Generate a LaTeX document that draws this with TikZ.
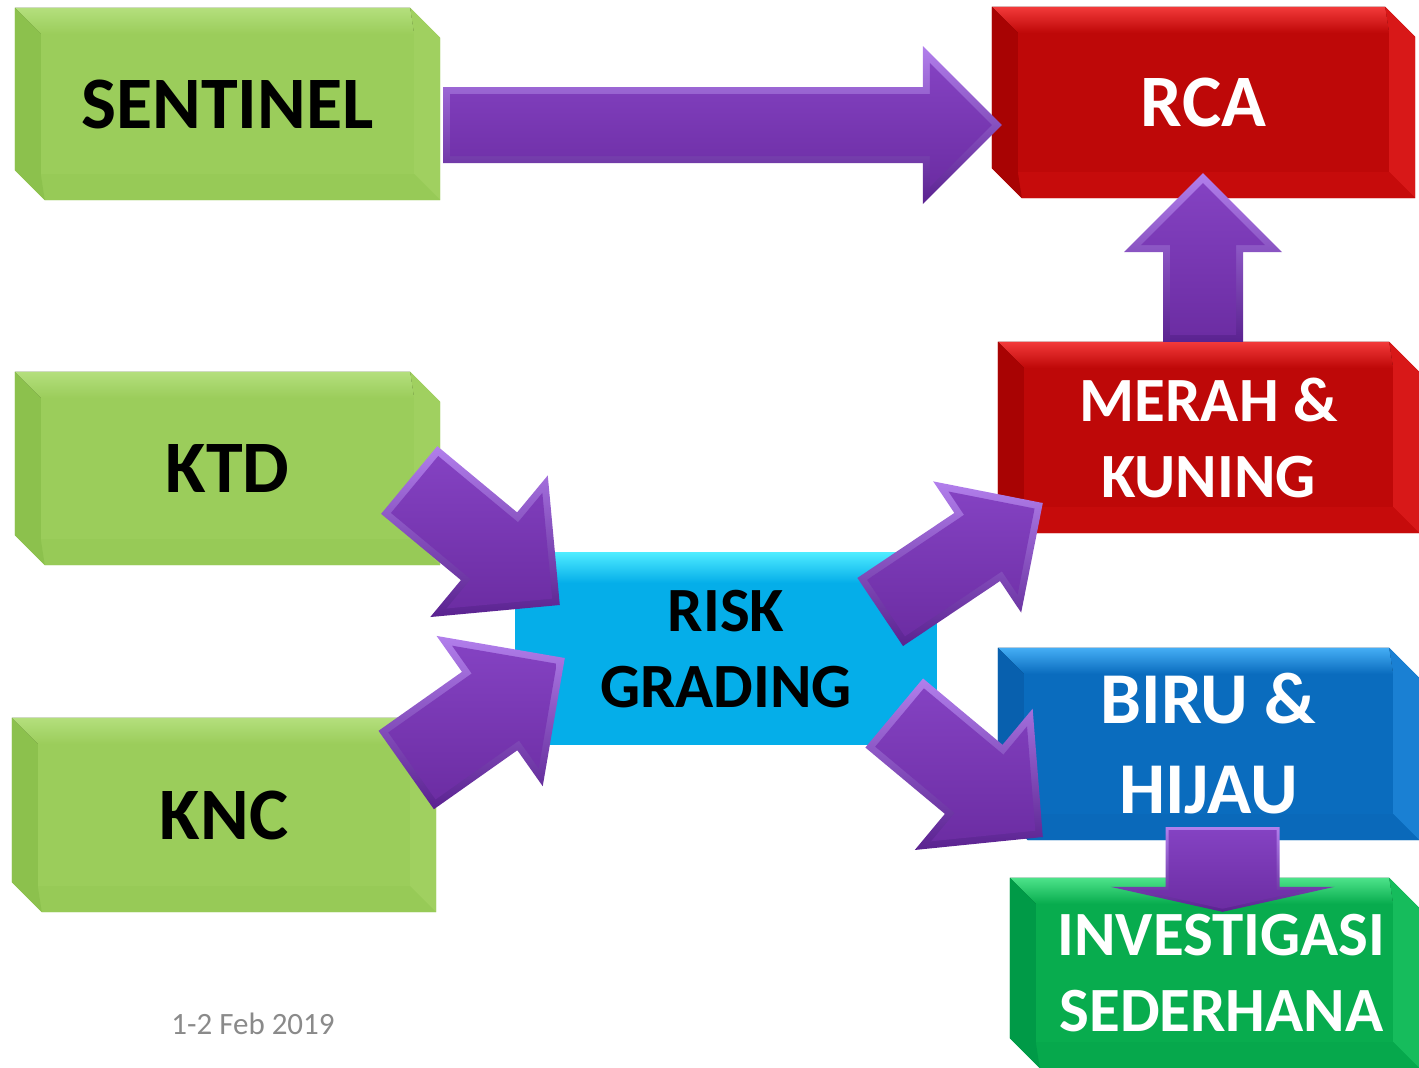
\documentclass[tikz,border=0pt]{standalone}
\usepackage{fontspec}
\setmainfont{Carlito}
\usetikzlibrary{calc}

% box colours
\definecolor{gFront}{HTML}{9BCD5B}
\definecolor{gTop}{HTML}{B4DF7D}
\definecolor{gLeft}{HTML}{8CC14D}
\definecolor{gRight}{HTML}{A0D060}
\definecolor{gBottom}{HTML}{97CA57}
\definecolor{rFront}{HTML}{BE0808}
\definecolor{rTop}{HTML}{F23A3A}
\definecolor{rLeft}{HTML}{A80303}
\definecolor{rRight}{HTML}{D81818}
\definecolor{rBottom}{HTML}{C60B0B}
\definecolor{bFront}{HTML}{0A6CBE}
\definecolor{bTop}{HTML}{45AEF5}
\definecolor{bLeft}{HTML}{0860AE}
\definecolor{bRight}{HTML}{1A80D3}
\definecolor{bBottom}{HTML}{0A69BA}
\definecolor{vFront}{HTML}{08AC4E}
\definecolor{vTop}{HTML}{4DE38A}
\definecolor{vLeft}{HTML}{009A47}
\definecolor{vRight}{HTML}{16BC5C}
\definecolor{vBottom}{HTML}{06A84C}
\definecolor{cFront}{HTML}{05AEE9}
\definecolor{cTop}{HTML}{4DEBFF}
% arrow colours
\definecolor{aLight}{HTML}{B27FEC}
\definecolor{aDark}{HTML}{5A2290}
\definecolor{aFaceT}{HTML}{8442C2}
\definecolor{aFaceB}{HTML}{6C2DA3}
\definecolor{dateGray}{HTML}{8A8A8A}

\pgfdeclarelayer{boxes}
\pgfdeclarelayer{arrows}
\pgfsetlayers{boxes,arrows,main}

% bevelled box behind a named node: #1 node, #2 front, #3 top, #4 left, #5 right, #6 bottom
\newcommand\bevelbox[6]{%
  \coordinate (A) at (#1.north west);
  \coordinate (B) at ($(#1.north east)+(-30,0)$);
  \coordinate (C) at ($(#1.north east)+(0,30)$);
  \coordinate (D) at (#1.south east);
  \coordinate (E) at ($(#1.south west)+(30,0)$);
  \coordinate (F) at ($(#1.south west)+(0,-30)$);
  \coordinate (iA) at ($(#1.north west)+(26,26)$);
  \coordinate (iB) at ($(#1.north east)+(-26,26)$);
  \coordinate (iD) at ($(#1.south east)+(-26,-26)$);
  \coordinate (iE) at ($(#1.south west)+(26,-26)$);
  \fill[#2] (A) -- (B) -- (C) -- (D) -- (E) -- (F) -- cycle;
  \fill[top color=#3, bottom color=#2] (A) -- (B) -- (iB) -- (iA) -- cycle;
  \fill[#5] (B) -- (C) -- (D) -- (iD) -- (iB) -- cycle;
  \fill[#6] (D) -- (E) -- (iE) -- (iD) -- cycle;
  \fill[#4] (E) -- (F) -- (A) -- (iA) -- (iE) -- cycle;
}

% block arrow outline: #1 tail, #2 tip, #3 half shaft, #4 half head, #5 head length, #6 style
\newcommand\arrowpoly[6]{%
  \coordinate (hb) at ($(#2)!#5pt!(#1)$);
  \path[#6] ($(#1)!#3pt!90:(#2)$) -- ($(hb)!#3pt!90:(#2)$) -- ($(hb)!#4pt!90:(#2)$)
    -- (#2) -- ($(hb)!#4pt!-90:(#2)$) -- ($(hb)!#3pt!-90:(#2)$) -- ($(#1)!#3pt!-90:(#2)$) -- cycle;
}
% bevelled block arrow: rim plus inset face; #6 bevel width
\newcommand\blockarrow[6]{%
  \arrowpoly{#1}{#2}{#3}{#4}{#5}{arrowrim}
  \pgfmathsetmacro\arwA{#3-#6}
  \pgfmathsetmacro\arwT{#6/sin(atan2(#4,#5))}
  \pgfmathsetmacro\arwL{#5-#6-\arwT}
  \pgfmathsetmacro\arwH{\arwL*#4/#5}
  \coordinate (ta) at ($(#1)!#6pt!(#2)$);
  \coordinate (tb) at ($(#2)!\arwT pt!(#1)$);
  \arrowpoly{ta}{tb}{\arwA}{\arwH}{\arwL}{arrowface}
}

\begin{document}
\begin{tikzpicture}[x=1pt,y=-1pt,
  bigtext/.style={inner sep=0pt, align=center, font=\bfseries\fontsize{74}{88}\selectfont},
  midtext/.style={inner sep=0pt, align=center, font=\bfseries\fontsize{63}{76}\selectfont},
  pairtext/.style={inner sep=0pt, align=center, font=\bfseries\fontsize{73}{90}\selectfont},
  arrowrim/.style={top color=aLight, bottom color=aDark},
  arrowface/.style={top color=aFaceT, bottom color=aFaceB}]
\path[use as bounding box] (0,0) rectangle (1419,1068);

% labelled boxes
\node[bigtext, minimum width=425pt, minimum height=192pt] (sentinel) at (227.5,104) {SENTINEL};
\node[bigtext, minimum width=425pt, minimum height=193pt] (ktd) at (227.5,468.5) {KTD};
\node[bigtext, minimum width=424pt, minimum height=194pt] (knc) at (224,815) {KNC};
\node[bigtext, text=white, minimum width=423pt, minimum height=191pt] (rca) at (1203.5,102.5) {RCA};
\node[midtext, text=white, minimum width=421pt, minimum height=191pt] (merah) at (1208.5,437.5) {MERAH \&\\KUNING};
\node[midtext, minimum width=422pt, minimum height=192pt] (risk) at (726,649) {RISK\\GRADING};
\node[pairtext, text=white, minimum width=421pt, minimum height=192pt] (biru) at (1208.5,744) {BIRU \&\\HIJAU};
\node[midtext, text=white, minimum width=409pt, minimum height=190pt] (inv) at (1214.5,973) {\hspace*{14pt}INVESTIGASI\\\hspace*{14pt}SEDERHANA};
\node[font=\fontsize{31}{37}\selectfont, text=dateGray] (date) at (253,1024) {1-2 Feb 2019};

\begin{pgfonlayer}{boxes}
  \bevelbox{sentinel}{gFront}{gTop}{gLeft}{gRight}{gBottom}
  \bevelbox{ktd}{gFront}{gTop}{gLeft}{gRight}{gBottom}
  \bevelbox{knc}{gFront}{gTop}{gLeft}{gRight}{gBottom}
  \bevelbox{rca}{rFront}{rTop}{rLeft}{rRight}{rBottom}
  \bevelbox{merah}{rFront}{rTop}{rLeft}{rRight}{rBottom}
  \bevelbox{biru}{bFront}{bTop}{bLeft}{bRight}{bBottom}
  \bevelbox{inv}{vFront}{vTop}{vLeft}{vRight}{vBottom}
  \fill[cFront] (risk.north west) rectangle (risk.south east);
  \fill[top color=cTop, bottom color=cFront] (risk.north west) rectangle ($(risk.north east)+(0,30)$);
\end{pgfonlayer}

\begin{pgfonlayer}{arrows}
  \coordinate (t1) at ($(sentinel.east)+(3,21)$);
  \coordinate (e1) at ($(rca.west)+(10,22.5)$);
  \coordinate (t2) at ($(merah.north)+(-5.5,0)$);
  \coordinate (e2) at ($(rca.south)+(-0.5,-25)$);
  \coordinate (t3) at ($(ktd.east)+(-31,11.5)$);
  \coordinate (e3) at ($(risk.west)+(45,-44)$);
  \coordinate (t4) at ($(knc.east)+(-30,-45)$);
  \coordinate (e4) at ($(risk.west)+(50,9)$);
  \coordinate (t5) at ($(risk.east)+(-57,-37)$);
  \coordinate (e5) at ($(merah.west)+(45,65.5)$);
  \coordinate (t6) at ($(risk.east)+(-43,64)$);
  \coordinate (e6) at ($(biru.west)+(45,93)$);
  \coordinate (t7) at ($(biru.south)+(14,-13)$);
  \coordinate (e7) at ($(inv.north)+(8,34)$);
  \blockarrow{t1}{e1}{38}{79}{79}{7}
  \blockarrow{t2}{e2}{40}{79}{79}{7}
  \blockarrow{t3}{e3}{44}{92}{92}{7}
  \blockarrow{t4}{e4}{48}{92}{92}{7}
  \blockarrow{t5}{e5}{41}{79}{79}{7}
  \blockarrow{t6}{e6}{45}{92}{90}{7}
  \blockarrow{t7}{e7}{57}{112}{25}{3}
\end{pgfonlayer}
\end{tikzpicture}
\end{document}
